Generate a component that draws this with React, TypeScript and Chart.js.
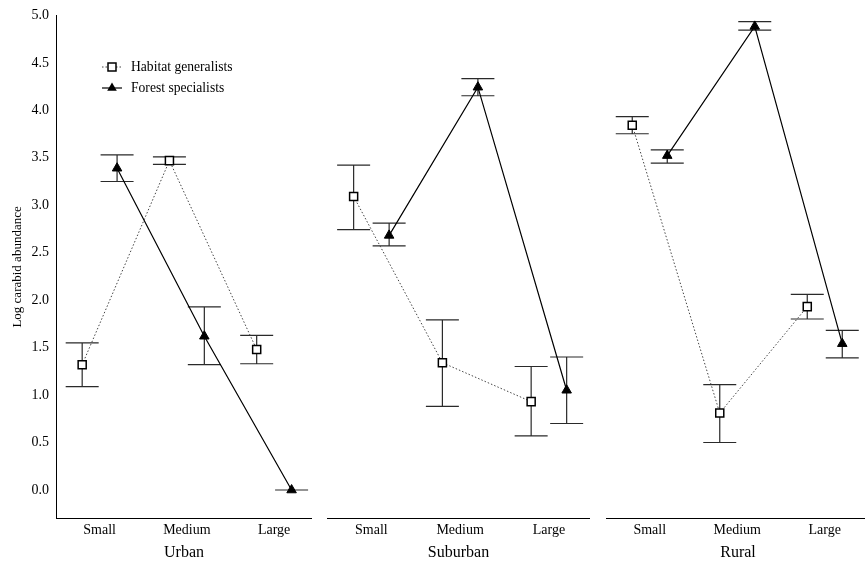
import React, { useEffect, useRef } from 'react';
import { Chart, registerables } from 'chart.js';

Chart.register(...registerables);

const FONT = "'Liberation Serif', 'Times New Roman', Times, serif";

const categories = ['Small', 'Medium', 'Large'];
const regions = ['Urban', 'Suburban', 'Rural'];
const seriesNames = ['Habitat generalists', 'Forest specialists'];
const yAxisTitle = 'Log carabid abundance';
const yTickValues = [0, 0.5, 1, 1.5, 2, 2.5, 3, 3.5, 4, 4.5, 5];

// Habitat generalists (Small, Medium, Large)
const genUrban = [1.32, 3.47, 1.48];
const genUrbanLow = [1.09, 3.43, 1.33];
const genUrbanHigh = [1.55, 3.51, 1.63];
const genSuburban = [3.09, 1.34, 0.93];
const genSuburbanLow = [2.74, 0.88, 0.57];
const genSuburbanHigh = [3.42, 1.79, 1.3];
const genRural = [3.84, 0.81, 1.93];
const genRuralLow = [3.75, 0.5, 1.8];
const genRuralHigh = [3.93, 1.11, 2.06];

// Forest specialists (Small, Medium, Large)
const specUrban = [3.39, 1.62, 0.0];
const specUrbanLow = [3.25, 1.32, 0.0];
const specUrbanHigh = [3.53, 1.93, 0.0];
const specSuburban = [2.68, 4.24, 1.05];
const specSuburbanLow = [2.57, 4.15, 0.7];
const specSuburbanHigh = [2.81, 4.33, 1.4];
const specRural = [3.52, 4.88, 1.54];
const specRuralLow = [3.44, 4.84, 1.39];
const specRuralHigh = [3.58, 4.93, 1.68];

const panels = [
  { region: regions[0], gen: genUrban, genLow: genUrbanLow, genHigh: genUrbanHigh, spec: specUrban, specLow: specUrbanLow, specHigh: specUrbanHigh },
  { region: regions[1], gen: genSuburban, genLow: genSuburbanLow, genHigh: genSuburbanHigh, spec: specSuburban, specLow: specSuburbanLow, specHigh: specSuburbanHigh },
  { region: regions[2], gen: genRural, genLow: genRuralLow, genHigh: genRuralHigh, spec: specRural, specLow: specRuralLow, specHigh: specRuralHigh },
];

const layoutBoxes = [
  { left: 0, width: 312, xMax: 2.934, showY: true },
  { left: 327, width: 263, xMax: 2.963, showY: false },
  { left: 606, width: 264, xMax: 3.017, showY: false },
];

const GROUP_OFFSET = 0.2;
const CAP_HALF = 16.5;

const errorBarPlugin = {
  id: 'errorBars',
  beforeDatasetsDraw(chart: any) {
    const ctx = chart.ctx;
    const yScale = chart.scales.y;
    chart.data.datasets.forEach((ds: any, di: number) => {
      const meta = chart.getDatasetMeta(di);
      meta.data.forEach((pt: any, i: number) => {
        const x = pt.x;
        const yl = yScale.getPixelForValue(ds.errLow[i]);
        const yh = yScale.getPixelForValue(ds.errHigh[i]);
        ctx.save();
        ctx.strokeStyle = '#2a2a2a';
        ctx.lineWidth = 1.2;
        ctx.beginPath();
        ctx.moveTo(x, yl);
        ctx.lineTo(x, yh);
        ctx.moveTo(x - CAP_HALF, yl);
        ctx.lineTo(x + CAP_HALF, yl);
        ctx.moveTo(x - CAP_HALF, yh);
        ctx.lineTo(x + CAP_HALF, yh);
        ctx.stroke();
        ctx.restore();
      });
    });
  },
};

const legendPlugin = {
  id: 'innerLegend',
  afterDraw(chart: any) {
    if (!chart.options.plugins.innerLegend?.show) return;
    const ctx = chart.ctx;
    const rows = [
      { y: 67, label: seriesNames[0], dash: [1.5, 2], style: 'rect' },
      { y: 88, label: seriesNames[1], dash: [], style: 'triangle' },
    ];
    rows.forEach((r) => {
      ctx.save();
      ctx.strokeStyle = r.style === 'rect' ? '#444' : '#000';
      ctx.lineWidth = r.style === 'rect' ? 1 : 1.2;
      ctx.setLineDash(r.dash);
      ctx.beginPath();
      ctx.moveTo(102, r.y);
      ctx.lineTo(122, r.y);
      ctx.stroke();
      ctx.setLineDash([]);
      ctx.restore();
      ctx.save();
      if (r.style === 'rect') {
        ctx.fillStyle = '#fff';
        ctx.strokeStyle = '#000';
        ctx.lineWidth = 1.5;
        ctx.fillRect(108, r.y - 4, 8, 8);
        ctx.strokeRect(108, r.y - 4, 8, 8);
      } else {
        ctx.fillStyle = '#000';
        ctx.beginPath();
        ctx.moveTo(112, r.y - 5.5);
        ctx.lineTo(116.8, r.y + 2.8);
        ctx.lineTo(107.2, r.y + 2.8);
        ctx.closePath();
        ctx.fill();
      }
      ctx.fillStyle = '#000';
      ctx.font = `13.6px ${FONT}`;
      ctx.textBaseline = 'middle';
      ctx.textAlign = 'left';
      ctx.fillText(r.label, 131, r.y);
      ctx.restore();
    });
  },
};

function makeConfig(p: any, box: any, showLegend: boolean): any {
  const yScale: any = {
    type: 'linear',
    min: -0.3,
    max: 5,
    display: box.showY,
    afterBuildTicks: (s: any) => {
      s.ticks = yTickValues.map((v) => ({ value: v }));
    },
    ticks: {
      callback: (v: any) => Number(v).toFixed(1),
      font: { family: FONT, size: 14 },
      color: '#000',
      padding: 7,
    },
    grid: { display: false, drawTicks: false },
    border: { display: true, color: '#000', width: 1 },
    title: {
      display: true,
      text: yAxisTitle,
      font: { family: FONT, size: 13 },
      color: '#000',
      padding: { top: 10, bottom: 0 },
    },
  };
  if (box.showY) {
    yScale.afterFit = (s: any) => {
      s.width = 56;
    };
  }
  return {
    type: 'line',
    data: {
      datasets: [
        {
          label: seriesNames[1],
          data: p.spec.map((v: number, i: number) => ({ x: i + 0.5 + GROUP_OFFSET, y: v })),
          errLow: p.specLow,
          errHigh: p.specHigh,
          borderColor: '#000',
          borderWidth: 1.2,
          pointStyle: 'triangle',
          pointRadius: 5.5,
          pointBackgroundColor: '#000',
          pointBorderColor: '#000',
          pointBorderWidth: 1,
          tension: 0,
          fill: false,
        },
        {
          label: seriesNames[0],
          data: p.gen.map((v: number, i: number) => ({ x: i + 0.5 - GROUP_OFFSET, y: v })),
          errLow: p.genLow,
          errHigh: p.genHigh,
          borderColor: '#444',
          borderWidth: 1,
          borderDash: [1.5, 2],
          pointStyle: 'rect',
          pointRadius: 5.7,
          pointBackgroundColor: '#fff',
          pointBorderColor: '#000',
          pointBorderWidth: 1.5,
          tension: 0,
          fill: false,
        },
      ],
    },
    options: {
      responsive: false,
      animation: false,
      devicePixelRatio: 1,
      layout: { autoPadding: false, padding: { top: 15, left: 0, right: 0, bottom: 0 } },
      plugins: {
        legend: { display: false },
        tooltip: { enabled: false },
        innerLegend: { show: showLegend },
      },
      scales: {
        x: {
          type: 'linear',
          min: 0,
          max: box.xMax,
          afterBuildTicks: (s: any) => {
            s.ticks = categories.map((_, i) => ({ value: i + 0.5 }));
          },
          afterFit: (s: any) => {
            s.height = 42.5;
          },
          ticks: {
            callback: (_v: any, i: number) => categories[i],
            font: { family: FONT, size: 14 },
            color: '#000',
            padding: 3,
            autoSkip: false,
            maxRotation: 0,
          },
          grid: { display: false, drawTicks: false },
          border: { display: true, color: '#000', width: 1 },
          title: {
            display: true,
            text: p.region,
            font: { family: FONT, size: 16, lineHeight: 1 },
            color: '#000',
            padding: 0,
          },
        },
        y: yScale,
      },
    },
    plugins: [errorBarPlugin, legendPlugin],
  };
}

export default function App() {
  const refs = [useRef<HTMLCanvasElement>(null), useRef<HTMLCanvasElement>(null), useRef<HTMLCanvasElement>(null)];

  useEffect(() => {
    const charts = panels.map((p, i) => new Chart(refs[i].current as HTMLCanvasElement, makeConfig(p, layoutBoxes[i], i === 0)));
    return () => charts.forEach((c) => c.destroy());
  }, []);

  return (
    <div style={{ position: 'fixed', left: 0, top: 0, width: 865, height: 561, overflow: 'hidden', background: '#fff' }}>
      {layoutBoxes.map((b, i) => (
        <canvas
          key={i}
          ref={refs[i]}
          width={b.width}
          height={561}
          style={{ position: 'absolute', left: b.left, top: 0, width: b.width, height: 561 }}
        />
      ))}
    </div>
  );
}
